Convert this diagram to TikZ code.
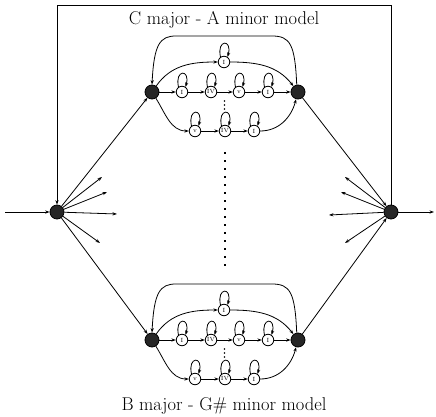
\documentclass[tikz,border=0pt]{standalone}
\usetikzlibrary{arrows.meta}
\begin{document}
\begin{tikzpicture}[x=1pt,y=1pt,
  every path/.style={line width=0.8pt},
  arr/.style={-{Stealth[length=4.5pt,width=3.2pt]}},
  state/.style={circle,draw,line width=0.8pt,minimum size=11.5pt,inner sep=0pt,
    font=\fontsize{6}{6}\selectfont},
  hub/.style={circle,fill=black!85,draw=black,minimum size=14pt,inner sep=0pt},
  title/.style={font=\fontsize{18.5}{20}\selectfont},
  selfloop/.style={arr}]
\useasboundingbox (0,0) rectangle (436,416);

% one key model: entry hub, chord chains and exit hub
\newcommand\keymodel[2]{%
  \begin{scope}[shift={(0,#1)}]
    \node[hub] (#2E) at (152,0) {};
    \node[hub] (#2X) at (298,0) {};
    \node[state] (#2s)  at (224,30) {I};
    \node[state] (#2a1) at (182,0) {I};
    \node[state] (#2a2) at (211,0) {IV};
    \node[state] (#2a3) at (239,0) {v};
    \node[state] (#2a4) at (268,0) {I};
    \node[state] (#2b1) at (195,-39) {v};
    \node[state] (#2b2) at (225,-39) {IV};
    \node[state] (#2b3) at (254,-39) {I};
    % chains
    \draw[arr] (#2E) -- (#2a1);
    \draw[arr] (#2a1) -- (#2a2);
    \draw[arr] (#2a2) -- (#2a3);
    \draw[arr] (#2a3) -- (#2a4);
    \draw[arr] (#2a4) -- (#2X);
    \draw[arr] (#2E) to[out=55,in=180] (#2s);
    \draw[arr] (#2s) to[out=0,in=128] (#2X);
    \draw[arr] (#2E) to[out=-58,in=180] (#2b1);
    \draw[arr] (#2b1) -- (#2b2);
    \draw[arr] (#2b2) -- (#2b3);
    \draw[arr] (#2b3) to[out=0,in=-105] (#2X);
    % return arc from exit to entry
    \coordinate (#2c1) at (272,56);
    \coordinate (#2c2) at (176,56);
    \draw[arr] (#2X.100) .. controls (295,48) and (290,56) .. (#2c1)
      -- (#2c2) .. controls (160,56) and (154,48) .. (#2E.north);
    % self loops
    \foreach \n in {s,a1,a2,a3,a4,b1,b2,b3}{
      \draw[selfloop] (#2\n.125) .. controls +(-4,18) and +(5,18) .. (#2\n.55);
    }
    % elided chains
    \foreach \k in {-9,-13,-17}{
      \fill (224.5,\k) circle (0.9pt);
    }
  \end{scope}%
}

\keymodel{324}{T}
\keymodel{76}{B}

\node[title] (ttop) at (224,396) {C major - A minor model};
\node[title] (tbot) at (224,10) {B major - G\# minor model};

% global hubs
\node[hub] (L) at (57,204) {};
\node[hub] (R) at (391,204) {};

\coordinate (in) at (5,204);
\coordinate (out) at (434,204);
\draw[arr] (in) -- (L);
\draw[arr] (R) -- (out);

% feedback frame
\coordinate (ftl) at (57,411);
\coordinate (ftr) at (391,411);
\draw[arr,line width=0.6pt] (R) -- (ftr) -- (ftl) -- (L);

% transitions into and out of the key models
\draw[arr] (L) -- (TE);
\draw[arr] (L) -- (BE);
\draw[arr] (TX) -- (R);
\draw[arr] (BX) -- (R);

% further key models (stubs)
\coordinate (l1) at (102,239);
\coordinate (l2) at (107,224);
\coordinate (l3) at (117,202);
\coordinate (l4) at (100,173);
\coordinate (r1) at (345,239);
\coordinate (r2) at (341,224);
\coordinate (r3) at (329,201);
\coordinate (r4) at (345,173);
\foreach \t in {l1,l2,l3,l4}{ \draw[arr] (L) -- (\t); }
\foreach \t in {r1,r2,r3,r4}{ \draw[arr] (R) -- (\t); }

% elided key models
\coordinate (d1) at (225,264);
\coordinate (d2) at (225,146);
\draw[line width=1.8pt,dash pattern=on 1.8pt off 6.2pt] (d1) -- (d2);
\end{tikzpicture}
\end{document}
